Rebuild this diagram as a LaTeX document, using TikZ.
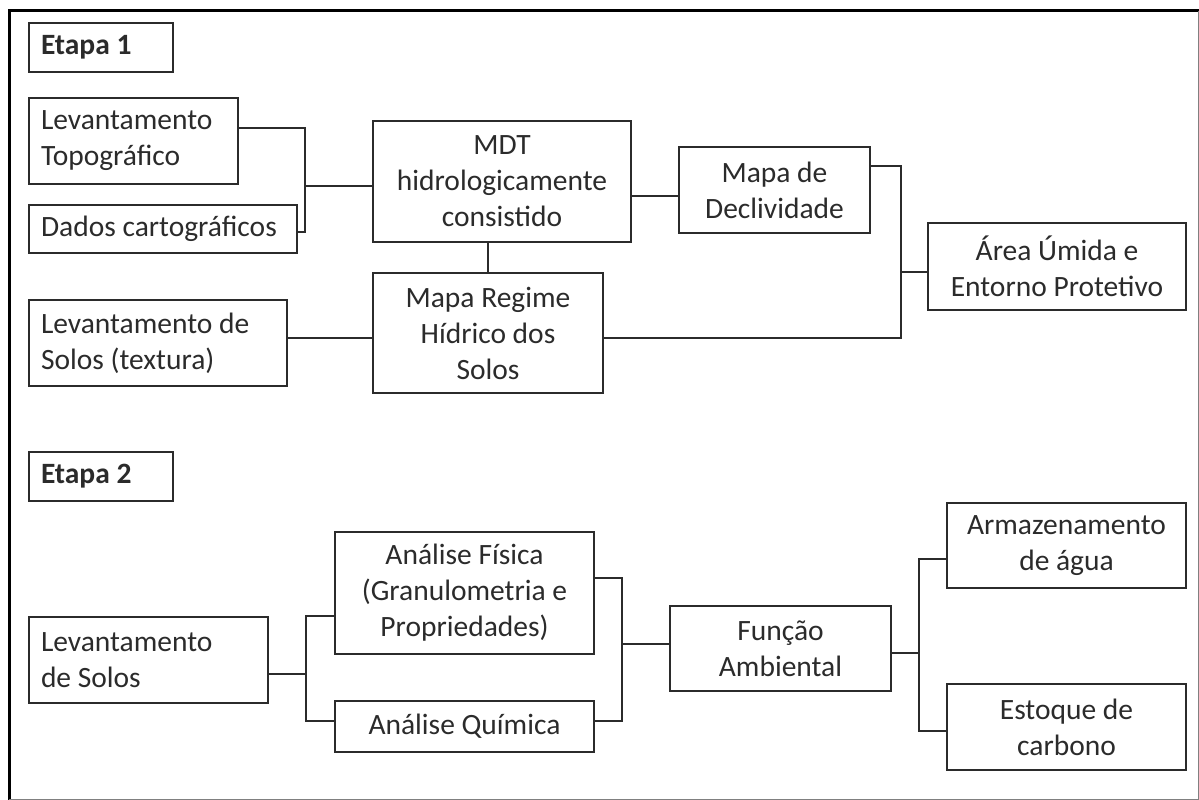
\documentclass[tikz,border=0pt]{standalone}
\usepackage{fontspec}
\setmainfont{Carlito}
\usepackage{tikz}
\definecolor{ink}{HTML}{2B2B2B}

\begin{document}
\begin{tikzpicture}[x=1pt, y=-1pt, line width=1.7pt, color=ink,
  block/.style = {draw, rectangle, inner xsep=12pt, inner ysep=0pt, align=flush center, font=\fontsize{29.5}{36}\selectfont},
  lblock/.style = {block, align=flush left, text width=#1},
  stage/.style = {lblock=120, minimum height=49, font=\fontsize{29.5}{36}\selectfont\bfseries}]
\useasboundingbox (0,0) rectangle (1199,800);
% frame
\draw[line width=3pt, black] (9,800) -- (9,11) -- (1199,11);
\draw[line width=1pt, gray] (1198,11) -- (1198,799) -- (9,799);

% Etapa 1
\node[stage] (etapaA) at (101,47.5) {Etapa 1};
\node[lblock=185, minimum height=86] (levTopo) at (133.5,141) {Levantamento\\Topográfico};
\node[lblock=244, minimum height=48] (dados) at (163,229) {Dados cartográficos};
\node[lblock=234, minimum height=86] (levSolosT) at (158,343) {Levantamento de\\Solos (textura)};
\node[block, minimum width=258, minimum height=121] (mdt) at (502,181.5) {MDT\\hidrologicamente\\consistido};
\node[block, minimum width=230, minimum height=120] (regime) at (488,333) {Mapa Regime\\Hídrico dos\\Solos};
\node[block, minimum width=191, minimum height=86] (decliv) at (774.5,190) {Mapa de\\Declividade};
\node[block, minimum width=258, minimum height=87] (area) at (1057,266.5) {Área Úmida e\\Entorno Protetivo};
\coordinate (jA) at (305,186);
\coordinate (jB) at (901,272);
\draw ([yshift=13pt]levTopo.east) -| (jA) |- ([yshift=-3pt]dados.east);
\draw (jA) -- (jA -| mdt.west);
\draw (regime.north) -- (regime.north |- mdt.south);
\draw ([yshift=-5pt]regime.west) -- ([yshift=-5pt]regime.west -| levSolosT.east);
\draw ([yshift=-6pt]decliv.west) -- ([yshift=-6pt]decliv.west -| mdt.east);
\draw ([yshift=24pt]decliv.east) -| (jB) |- ([yshift=-5pt]regime.east);
\draw (jB) -- (jB -| area.west);

% Etapa 2
\node[stage] (etapaB) at (101,476.5) {Etapa 2};
\node[lblock=215, minimum height=86] (levSolos) at (148.5,660) {Levantamento\\de Solos};
\node[block, minimum width=259, minimum height=122] (fisica) at (464.5,593) {Análise Física\\(Granulometria e\\Propriedades)};
\node[block, minimum width=259, minimum height=51] (quimica) at (464.5,726.5) {Análise Química};
\node[block, minimum width=221, minimum height=85] (funcao) at (780.5,648.5) {Função\\Ambiental};
\node[block, minimum width=239, minimum height=85] (armaz) at (1066.5,545.5) {Armazenamento\\de água};
\node[block, minimum width=239, minimum height=86] (estoque) at (1066.5,727) {Estoque de\\carbono};
\coordinate (jC) at (306,674);
\coordinate (jD) at (622,644);
\coordinate (jE) at (919,653);
\draw (jC -| levSolos.east) -- (jC);
\draw ([yshift=-23pt]fisica.west) -| (jC) |- ([yshift=5.5pt]quimica.west);
\draw ([yshift=15pt]fisica.east) -| (jD) |- ([yshift=5.5pt]quimica.east);
\draw (jD) -- (jD -| funcao.west);
\draw (jE -| funcao.east) -- (jE);
\draw ([yshift=-13.5pt]armaz.west) -| (jE) |- ([yshift=-4pt]estoque.west);
\end{tikzpicture}
\end{document}
